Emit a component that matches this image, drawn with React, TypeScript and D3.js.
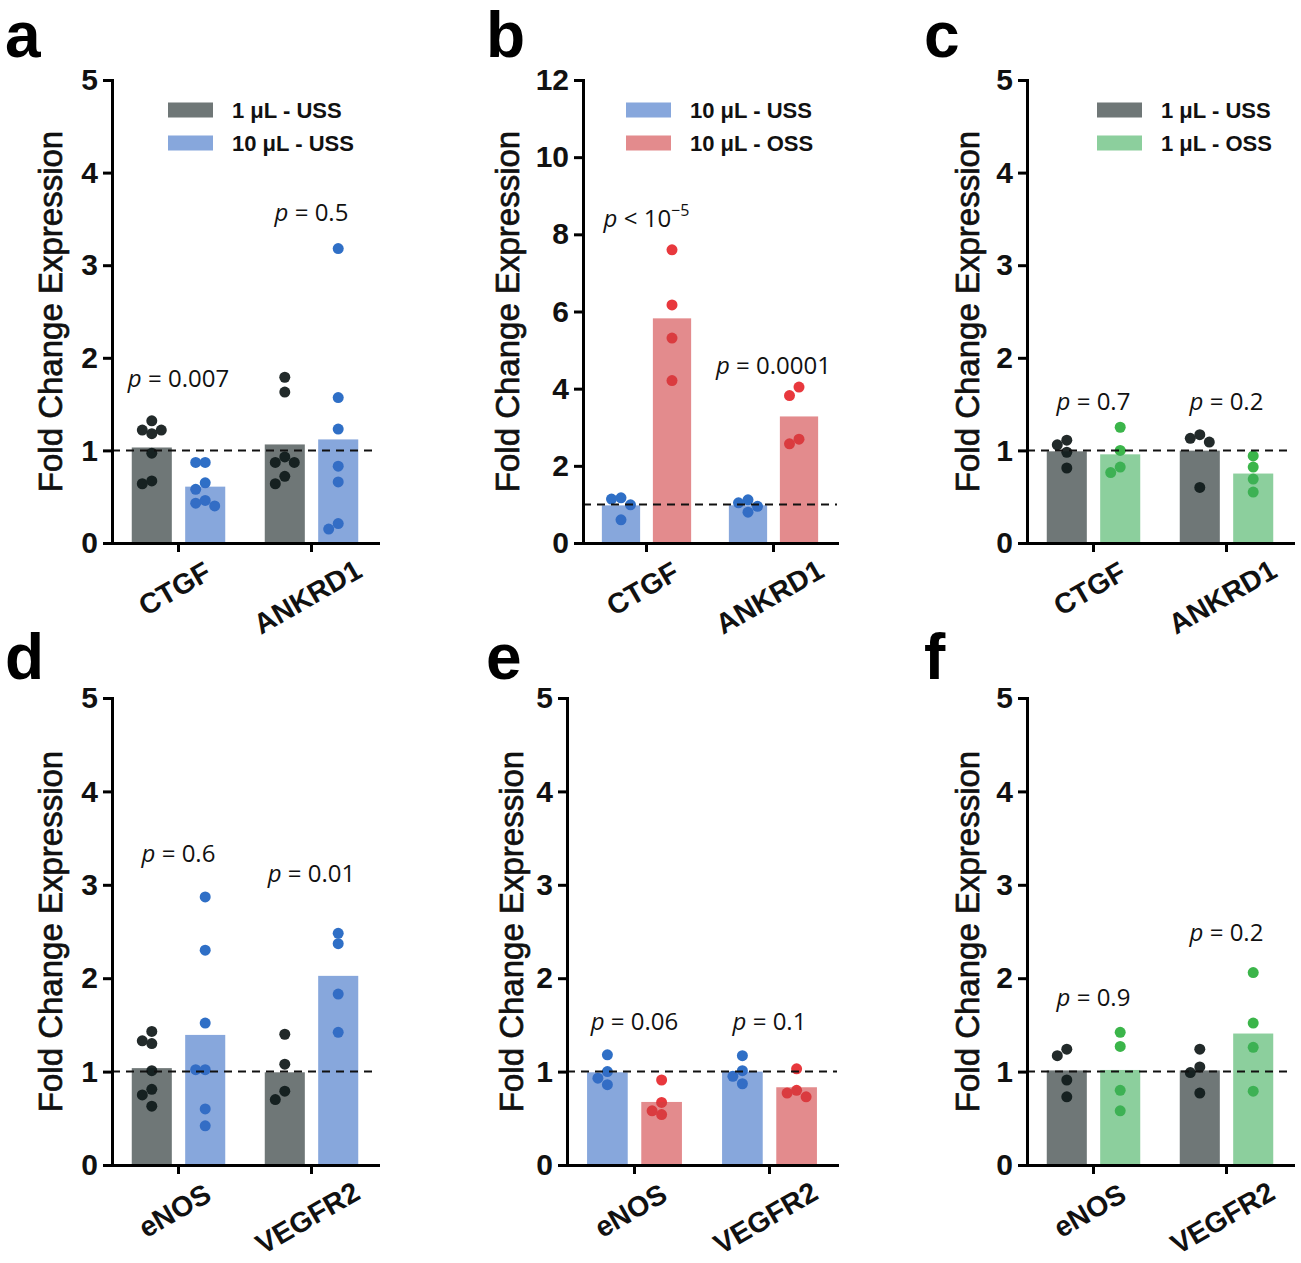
import React, { useEffect, useRef } from "react";
import * as d3 from "d3";

const W = 1301;
const H = 1263;

// categories
const genesTop = ["CTGF", "ANKRD1"];
const genesBottom = ["eNOS", "VEGFR2"];

// tick labels
const ticks5 = [0, 1, 2, 3, 4, 5];
const ticks12 = [0, 2, 4, 6, 8, 10, 12];

// a: 1 µL vs 10 µL under USS (per gene, individual replicates)
const aUss1 = [[1.32, 1.22, 1.22, 1.18, 0.97, 0.67, 0.64], [1.79, 1.63, 0.93, 0.87, 0.87, 0.72, 0.64]];
const aUss10 = [[0.87, 0.87, 0.65, 0.58, 0.46, 0.43, 0.4], [3.18, 1.57, 1.23, 0.83, 0.66, 0.21, 0.15]];
const aP = ["= 0.007", "= 0.5"];
const aPy = [1.78, 3.57];

// b: 10 µL USS vs OSS
const bUss10 = [[1.17, 1.14, 0.99, 0.6], [1.12, 1.04, 0.95, 0.8]];
const bOss10 = [[7.6, 6.17, 5.31, 4.21], [4.04, 3.82, 2.69, 2.57]];
const bP = ["< 10^−5", "= 0.0001"];
const bPy = [8.42, 4.61];

// c: 1 µL USS vs OSS
const cUss1 = [[1.11, 1.06, 0.98, 0.81], [1.17, 1.13, 1.09, 0.6]];
const cOss1 = [[1.25, 1.0, 0.82, 0.76], [0.94, 0.82, 0.69, 0.55]];
const cP = ["= 0.7", "= 0.2"];
const cPy = [1.53, 1.53];

// d
const dUss1 = [[1.43, 1.33, 1.3, 1.01, 0.81, 0.75, 0.63], [1.4, 1.08, 0.79, 0.7]];
const dUss10 = [[2.87, 2.3, 1.52, 1.02, 1.02, 0.6, 0.42], [2.48, 2.37, 1.83, 1.42]];
const dP = ["= 0.6", "= 0.01"];
const dPy = [3.33, 3.12];

// e
const eUss10 = [[1.18, 1.0, 0.93, 0.86], [1.17, 1.01, 0.95, 0.87]];
const eOss10 = [[0.91, 0.67, 0.58, 0.54], [1.03, 0.8, 0.77, 0.73]];
const eP = ["= 0.06", "= 0.1"];
const ePy = [1.54, 1.54];

// f
const fUss1 = [[1.24, 1.17, 0.91, 0.73], [1.24, 1.05, 0.99, 0.77]];
const fOss1 = [[1.42, 1.27, 0.8, 0.58], [2.06, 1.52, 1.26, 0.79]];
const fP = ["= 0.9", "= 0.2"];
const fPy = [1.79, 2.49];

const colors: Record<string, { bar: string; dot: string }> = {
  gray: { bar: "rgb(15,28,28)", dot: "#222a2a" },
  blue: { bar: "rgb(55,108,197)", dot: "#2f6fc6" },
  red: { bar: "rgb(208,62,65)", dot: "#e8383d" },
  green: { bar: "rgb(63,175,92)", dot: "#3bb54a" },
};

const SANS = "'Liberation Sans', Arial, sans-serif";
const PFONT = "'Open Sans', 'DejaVu Sans', sans-serif";

const rowTop = { top: 80, bottom: 543, letterY: 57 };
const rowBot = { top: 698, bottom: 1165, letterY: 679 };

const panels = [
  {
    id: "a", genes: genesTop, ticks: ticks5, pText: aP, pAt: aPy, legend: true,
    series: [{ label: "1 μL - USS", color: "gray", values: aUss1 }, { label: "10 μL - USS", color: "blue", values: aUss10 }],
    layout: { ...rowTop, x0: 112, x1: 378, letterX: 5, ylabX: 50, legendX: 168 },
  },
  {
    id: "b", genes: genesTop, ticks: ticks12, pText: bP, pAt: bPy, legend: true,
    series: [{ label: "10 μL - USS", color: "blue", values: bUss10 }, { label: "10 μL - OSS", color: "red", values: bOss10 }],
    layout: { ...rowTop, x0: 583, x1: 837, letterX: 486, ylabX: 507, legendX: 626 },
  },
  {
    id: "c", genes: genesTop, ticks: ticks5, pText: cP, pAt: cPy, legend: true,
    series: [{ label: "1 μL - USS", color: "gray", values: cUss1 }, { label: "1 μL - OSS", color: "green", values: cOss1 }],
    layout: { ...rowTop, x0: 1027, x1: 1293, letterX: 924, ylabX: 967, legendX: 1097 },
  },
  {
    id: "d", genes: genesBottom, ticks: ticks5, pText: dP, pAt: dPy, legend: false,
    series: [{ label: "1 μL - USS", color: "gray", values: dUss1 }, { label: "10 μL - USS", color: "blue", values: dUss10 }],
    layout: { ...rowBot, x0: 112, x1: 378, letterX: 5, ylabX: 50, legendX: 168 },
  },
  {
    id: "e", genes: genesBottom, ticks: ticks5, pText: eP, pAt: ePy, legend: false,
    series: [{ label: "10 μL - USS", color: "blue", values: eUss10 }, { label: "10 μL - OSS", color: "red", values: eOss10 }],
    layout: { ...rowBot, x0: 567, x1: 837, letterX: 486, ylabX: 511, legendX: 626 },
  },
  {
    id: "f", genes: genesBottom, ticks: ticks5, pText: fP, pAt: fPy, legend: false,
    series: [{ label: "1 μL - USS", color: "gray", values: fUss1 }, { label: "1 μL - OSS", color: "green", values: fOss1 }],
    layout: { ...rowBot, x0: 1027, x1: 1293, letterX: 924, ylabX: 967, legendX: 1097 },
  },
];

const R = 5.5;

// simple swarm: keep points apart by shifting sideways
function dodge(vals: number[], y: d3.ScaleLinear<number, number>, cx: number) {
  const step = 9.5;
  const placed: { x: number; y: number }[] = [];
  [...vals].sort((a, b) => b - a).forEach(v => {
    const py = y(v);
    const cands = [0, -step, step, -2 * step, 2 * step, -3 * step, 3 * step];
    for (const dx of cands) {
      const ok = placed.every(q => Math.hypot(q.x - (cx + dx), q.y - py) >= 2 * R * 0.85);
      if (ok) { placed.push({ x: cx + dx, y: py }); break; }
    }
  });
  return placed;
}

function drawPanel(svg: d3.Selection<SVGSVGElement, unknown, null, undefined>, p: any) {
  const L = p.layout;
  const yMax = p.ticks[p.ticks.length - 1];
  const y = d3.scaleLinear().domain([0, yMax]).range([L.bottom, L.top]);
  const x = d3.scaleBand<string>().domain(p.genes).range([L.x0, L.x1]).padding(0);
  const xs = d3.scaleBand<number>().domain(d3.range(p.series.length)).range([0, x.bandwidth()])
    .paddingInner(0.25).paddingOuter(0.37);

  const g = svg.append("g");

  g.append("text")
    .attr("x", L.letterX).attr("y", L.letterY)
    .attr("font-family", SANS).attr("font-weight", "bold").attr("font-size", 64)
    .text(p.id);

  // dots first, translucent bars over them
  p.series.forEach((s: any, si: number) => {
    p.genes.forEach((gene: string, gi: number) => {
      const cx = (x(gene) as number) + (xs(si) as number) + xs.bandwidth() / 2;
      g.append("g").selectAll("circle")
        .data(dodge(s.values[gi], y, cx))
        .join("circle")
        .attr("cx", d => d.x).attr("cy", d => d.y).attr("r", R)
        .attr("fill", colors[s.color].dot);
    });
  });

  p.series.forEach((s: any, si: number) => {
    g.append("g").selectAll("rect")
      .data(p.genes.map((gene: string, gi: number) => ({ gene, m: d3.mean(s.values[gi] as number[]) as number })))
      .join("rect")
      .attr("x", (d: any) => (x(d.gene) as number) + (xs(si) as number))
      .attr("width", xs.bandwidth())
      .attr("y", (d: any) => y(d.m))
      .attr("height", (d: any) => y(0) - y(d.m))
      .attr("fill", colors[s.color].bar)
      .attr("fill-opacity", 0.6);
  });

  g.append("line")
    .attr("x1", L.x0).attr("x2", L.x1).attr("y1", y(1)).attr("y2", y(1))
    .attr("stroke", "#111").attr("stroke-width", 2).attr("stroke-dasharray", "8,6");

  // axes
  const ya = g.append("g").attr("transform", `translate(${L.x0},0)`)
    .call(d3.axisLeft(y).tickValues(p.ticks).tickFormat(d3.format("d")).tickSize(9).tickSizeOuter(0).tickPadding(5));
  ya.attr("font-size", null).attr("font-family", null);
  ya.select(".domain").attr("stroke-width", 3).attr("stroke-linecap", "square");
  ya.selectAll(".tick line").attr("stroke-width", 3);
  ya.selectAll(".tick text")
    .attr("font-family", SANS).attr("font-weight", "bold").attr("font-size", 30).attr("fill", "#111");

  const xa = g.append("g").attr("transform", `translate(0,${L.bottom})`)
    .call(d3.axisBottom(x).tickSize(9).tickSizeOuter(0).tickFormat(() => ""));
  xa.select(".domain").attr("stroke-width", 3).attr("stroke-linecap", "square");
  xa.selectAll(".tick line").attr("stroke-width", 3);

  p.genes.forEach((gene: string) => {
    const t = g.append("text").text(gene)
      .attr("font-family", SANS).attr("font-weight", "bold").attr("font-size", 28.5)
      .attr("text-anchor", "middle").attr("dy", "0.35em").attr("fill", "#111");
    const w = (t.node() as SVGTextElement).getComputedTextLength();
    const cx = (x(gene) as number) + x.bandwidth() / 2 - 4;
    const cy = L.bottom + 30 + 0.2 * w;
    t.attr("transform", `translate(${cx},${cy}) rotate(-30)`);
  });

  g.append("text")
    .attr("transform", `translate(${L.ylabX},${(L.top + L.bottom) / 2}) rotate(-90)`)
    .attr("text-anchor", "middle").attr("dy", "0.35em")
    .attr("font-family", SANS).attr("font-size", 33).attr("fill", "#111")
    .attr("stroke", "#111").attr("stroke-width", 0.7)
    .text("Fold Change Expression");

  // p-values
  p.genes.forEach((gene: string, gi: number) => {
    const t = g.append("text")
      .attr("x", (x(gene) as number) + x.bandwidth() / 2)
      .attr("y", y(p.pAt[gi]))
      .attr("dy", "0.35em").attr("text-anchor", "middle")
      .attr("font-family", PFONT).attr("font-size", 24).attr("fill", "#111");
    t.append("tspan").attr("font-style", "italic").text("p");
    const [base, sup] = (p.pText[gi] as string).split("^");
    t.append("tspan").text(" " + base);
    if (sup) t.append("tspan").attr("font-size", 16).attr("dy", -11).text(sup);
  });

  if (p.legend) {
    p.series.forEach((s: any, i: number) => {
      const cy = 110 + i * 33;
      g.append("rect")
        .attr("x", L.legendX).attr("y", cy - 7.5).attr("width", 45).attr("height", 15)
        .attr("fill", colors[s.color].bar).attr("fill-opacity", 0.6);
      g.append("text")
        .attr("x", L.legendX + 64).attr("y", cy).attr("dy", "0.35em")
        .attr("font-family", SANS).attr("font-weight", "bold").attr("font-size", 22).attr("fill", "#111")
        .text(s.label);
    });
  }
}

export default function App() {
  const svgRef = useRef<SVGSVGElement>(null);

  useEffect(() => {
    const svg = d3.select(svgRef.current as SVGSVGElement);
    svg.selectAll("*").remove();
    panels.forEach(p => drawPanel(svg, p));
  }, []);

  return (
    <svg
      ref={svgRef}
      width={W}
      height={H}
      style={{ position: "absolute", left: 0, top: 0, background: "#fff" }}
    />
  );
}
